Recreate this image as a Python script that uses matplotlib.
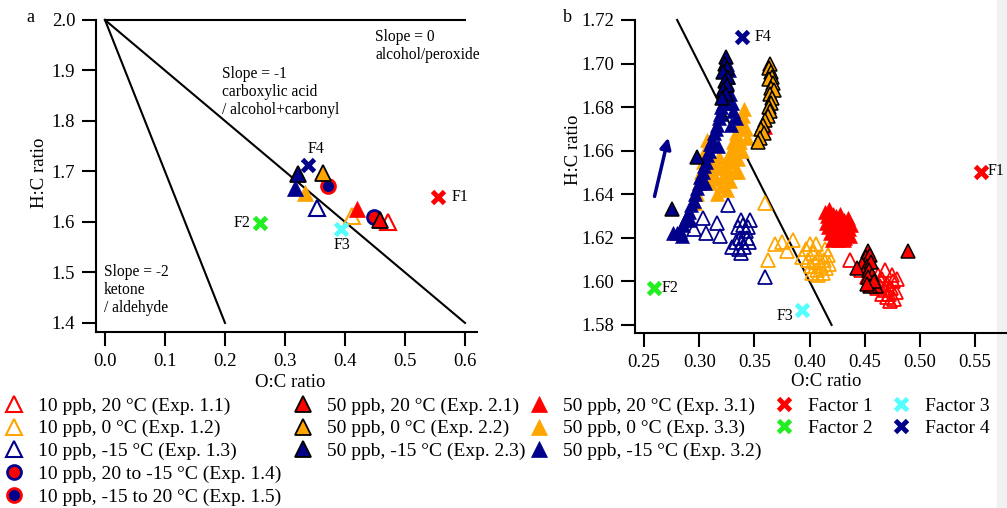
import matplotlib
matplotlib.use('Agg')
import matplotlib.pyplot as plt
from matplotlib.patches import Rectangle

plt.rcParams['font.family'] = ['Liberation Serif', 'DejaVu Serif']

RED = '#ff0000'
ORANGE = '#ffa500'
NAVY = '#00008b'
GREEN = '#22ee22'
CYAN = '#55ffff'

# ---- panel a: mean O:C, H:C per experiment ----
a_exp11 = (0.472, 1.600)
a_exp12 = (0.412, 1.611)
a_exp13 = (0.353, 1.628)
a_exp14 = (0.449, 1.610)
a_exp15 = (0.372, 1.671)
a_exp21 = (0.458, 1.604)
a_exp22 = (0.363, 1.697)
a_exp23 = (0.322, 1.695)
a_exp31 = (0.420, 1.625)
a_exp33 = (0.333, 1.657)
a_exp32 = (0.317, 1.667)

# factor positions (O:C, H:C)
fac_x = [0.555, 0.259, 0.393, 0.339]
fac_y = [1.650, 1.597, 1.587, 1.712]
fac_colors = [RED, GREEN, CYAN, NAVY]

# ---- panel b: time-resolved points ----
b_exp11 = [(0.437, 1.610), (0.447, 1.605), (0.452, 1.602), (0.456, 1.604), (0.459, 1.600),
           (0.462, 1.603), (0.464, 1.598), (0.466, 1.601), (0.468, 1.596), (0.470, 1.599),
           (0.472, 1.594), (0.474, 1.597), (0.476, 1.600), (0.478, 1.595), (0.479, 1.601),
           (0.477, 1.592), (0.473, 1.591), (0.470, 1.593), (0.466, 1.594), (0.461, 1.597),
           (0.475, 1.603), (0.468, 1.605)]
b_exp12 = [(0.360, 1.636), (0.369, 1.617), (0.375, 1.618), (0.385, 1.619), (0.380, 1.614),
           (0.362, 1.610), (0.393, 1.611), (0.397, 1.615), (0.399, 1.610), (0.401, 1.607),
           (0.403, 1.613), (0.405, 1.609), (0.407, 1.605), (0.409, 1.611), (0.410, 1.607),
           (0.412, 1.604), (0.413, 1.610), (0.415, 1.606), (0.417, 1.612), (0.418, 1.608),
           (0.402, 1.604), (0.408, 1.603), (0.414, 1.615), (0.406, 1.617), (0.400, 1.617)]
b_exp13 = [(0.326, 1.635), (0.303, 1.629), (0.316, 1.627), (0.306, 1.622), (0.319, 1.621),
           (0.360, 1.602), (0.335, 1.625), (0.338, 1.628), (0.340, 1.626), (0.342, 1.623),
           (0.337, 1.620), (0.339, 1.618), (0.341, 1.616), (0.343, 1.620), (0.345, 1.618),
           (0.336, 1.615), (0.338, 1.613), (0.344, 1.625), (0.346, 1.628), (0.333, 1.618),
           (0.330, 1.616), (0.295, 1.624)]
b_exp21 = [(0.489, 1.614), (0.453, 1.614), (0.451, 1.611), (0.455, 1.612), (0.448, 1.608),
           (0.452, 1.607), (0.456, 1.609), (0.454, 1.605), (0.457, 1.603), (0.453, 1.602),
           (0.460, 1.598), (0.455, 1.598), (0.458, 1.600), (0.452, 1.599), (0.443, 1.606)]
b_exp22 = [(0.364, 1.700), (0.363, 1.698), (0.365, 1.696), (0.366, 1.694), (0.363, 1.693),
           (0.367, 1.691), (0.365, 1.689), (0.368, 1.688), (0.364, 1.686), (0.366, 1.684),
           (0.365, 1.682), (0.363, 1.680), (0.364, 1.678), (0.362, 1.676), (0.360, 1.674),
           (0.358, 1.672), (0.356, 1.670), (0.359, 1.668), (0.355, 1.666), (0.353, 1.664)]
b_exp23 = [(0.324, 1.703), (0.323, 1.700), (0.325, 1.698), (0.322, 1.696), (0.326, 1.694),
           (0.323, 1.692), (0.325, 1.690), (0.322, 1.688), (0.324, 1.686), (0.321, 1.684),
           (0.298, 1.657), (0.275, 1.633)]
b_exp31 = [(0.360, 1.671), (0.414, 1.632), (0.416, 1.630), (0.415, 1.627), (0.418, 1.633),
           (0.417, 1.625), (0.420, 1.629), (0.419, 1.622), (0.421, 1.631), (0.422, 1.626),
           (0.423, 1.620), (0.424, 1.630), (0.425, 1.624), (0.426, 1.628), (0.427, 1.621),
           (0.428, 1.631), (0.429, 1.625), (0.430, 1.623), (0.431, 1.628), (0.432, 1.620),
           (0.433, 1.626), (0.434, 1.622), (0.435, 1.629), (0.436, 1.624), (0.437, 1.621),
           (0.438, 1.626), (0.420, 1.619), (0.426, 1.619), (0.431, 1.619)]
b_exp33 = [(0.296, 1.636), (0.298, 1.640), (0.300, 1.645), (0.302, 1.650), (0.303, 1.655),
           (0.305, 1.660), (0.307, 1.665), (0.312, 1.650), (0.315, 1.647), (0.318, 1.652),
           (0.320, 1.644), (0.322, 1.648), (0.323, 1.653), (0.325, 1.642), (0.326, 1.657),
           (0.327, 1.650), (0.328, 1.646), (0.329, 1.660), (0.330, 1.655), (0.331, 1.664),
           (0.332, 1.650), (0.333, 1.668), (0.334, 1.660), (0.335, 1.656), (0.336, 1.670),
           (0.337, 1.664), (0.338, 1.673), (0.340, 1.676), (0.341, 1.679), (0.342, 1.670),
           (0.343, 1.666), (0.339, 1.660), (0.335, 1.650), (0.318, 1.657), (0.313, 1.655),
           (0.310, 1.645), (0.316, 1.640)]
b_exp32 = [(0.280, 1.622), (0.283, 1.623), (0.285, 1.626), (0.287, 1.628), (0.289, 1.630),
           (0.291, 1.632), (0.293, 1.635), (0.295, 1.637), (0.296, 1.640), (0.298, 1.643),
           (0.300, 1.645), (0.301, 1.648), (0.303, 1.650), (0.304, 1.653), (0.306, 1.655),
           (0.307, 1.658), (0.309, 1.660), (0.310, 1.663), (0.312, 1.665), (0.313, 1.668),
           (0.315, 1.670), (0.316, 1.672), (0.318, 1.675), (0.319, 1.677), (0.320, 1.680),
           (0.322, 1.682), (0.323, 1.685), (0.324, 1.688), (0.325, 1.691), (0.326, 1.694),
           (0.327, 1.697), (0.325, 1.700), (0.328, 1.686), (0.330, 1.682), (0.331, 1.678),
           (0.333, 1.675), (0.329, 1.672), (0.317, 1.662), (0.305, 1.645), (0.292, 1.628),
           (0.276, 1.622), (0.284, 1.621)]

labels = ['10 ppb, 20 °C (Exp. 1.1)', '10 ppb, 0 °C (Exp. 1.2)', '10 ppb, -15 °C (Exp. 1.3)',
          '10 ppb, 20 to -15 °C (Exp. 1.4)', '10 ppb, -15 to 20 °C (Exp. 1.5)',
          '50 ppb, 20 °C (Exp. 2.1)', '50 ppb, 0 °C (Exp. 2.2)', '50 ppb, -15 °C (Exp. 2.3)',
          '50 ppb, 20 °C (Exp. 3.1)', '50 ppb, 0 °C (Exp. 3.3)', '50 ppb, -15 °C (Exp. 3.2)',
          'Factor 1', 'Factor 2', 'Factor 3', 'Factor 4']

# marker styles: (marker, facecolor, edgecolor, edgewidth)
styles = {
    'exp11': ('^', 'none', RED, 1.5),
    'exp12': ('^', 'none', ORANGE, 1.5),
    'exp13': ('^', 'none', NAVY, 1.5),
    'exp14': ('o', RED, NAVY, 2.0),
    'exp15': ('o', NAVY, RED, 2.0),
    'exp21': ('^', RED, 'black', 1.3),
    'exp22': ('^', ORANGE, 'black', 1.3),
    'exp23': ('^', NAVY, 'black', 1.3),
    'exp31': ('^', RED, RED, 0.5),
    'exp33': ('^', ORANGE, ORANGE, 0.5),
    'exp32': ('^', NAVY, NAVY, 0.5),
}

fig = plt.figure(figsize=(10.07, 5.08), dpi=100)
fig.patches.append(Rectangle((0.990, 0), 0.010, 1, transform=fig.transFigure,
                             color='#f1f1f1', zorder=-10))

axa = fig.add_axes([96 / 1007, 1 - 332 / 508, 381 / 1007, 312 / 508])
axb = fig.add_axes([635 / 1007, 1 - 333 / 508, 372 / 1007, 313 / 508])

for ax in (axa, axb):
    ax.set_facecolor('none')
    for s in ('top', 'right'):
        ax.spines[s].set_visible(False)
    for s in ('left', 'bottom'):
        ax.spines[s].set_linewidth(1.5)
    ax.tick_params(direction='out', length=10, width=1.5, labelsize=13.5, pad=5)

# ---- panel a ----
axa.plot([0, 0.6], [2.0, 2.0], color='black', lw=1.5, clip_on=False)
axa.plot([0, 0.6], [2.0, 1.4], color='black', lw=1.5, clip_on=False)
axa.plot([0, 0.2], [2.0, 1.4], color='black', lw=1.5, clip_on=False)

a_pts = {'exp11': a_exp11, 'exp12': a_exp12, 'exp13': a_exp13, 'exp14': a_exp14,
         'exp15': a_exp15, 'exp21': a_exp21, 'exp22': a_exp22, 'exp23': a_exp23,
         'exp31': a_exp31, 'exp33': a_exp33, 'exp32': a_exp32}
handles = {}
for key, (x, y) in a_pts.items():
    m, fc, ec, ew = styles[key]
    ms = 10 if m == 'o' else 11
    h, = axa.plot([x], [y], linestyle='none', marker=m, ms=ms, mfc=fc, mec=ec, mew=ew,
                  clip_on=False, zorder=3)
    handles[key] = h

fac_handles = []
for x, y, c in zip(fac_x, fac_y, fac_colors):
    h, = axa.plot([x], [y], linestyle='none', marker='x', ms=9, mew=3.5, color=c,
                  clip_on=False, zorder=4)
    fac_handles.append(h)

axa.text(0.352, 1.745, 'F4', fontsize=11.5, ha='center', va='center')
axa.text(0.243, 1.598, 'F2', fontsize=11.5, ha='right', va='center')
axa.text(0.395, 1.554, 'F3', fontsize=11.5, ha='center', va='center')
axa.text(0.578, 1.650, 'F1', fontsize=11.5, ha='left', va='center')

axa.text(0.450, 1.983, 'Slope = 0\nalcohol/peroxide', fontsize=11.2, va='top',
         linespacing=1.2)
axa.text(0.195, 1.908, 'Slope = -1\ncarboxylic acid\n/ alcohol+carbonyl', fontsize=11.2,
         va='top', linespacing=1.15)
axa.text(-0.002, 1.516, 'Slope = -2\nketone\n/ aldehyde', fontsize=11.2, va='top',
         linespacing=1.15)

axa.set_xlim(-0.015, 0.62)
axa.set_ylim(1.382, 2.0)
axa.set_xticks([0.0, 0.1, 0.2, 0.3, 0.4, 0.5, 0.6])
axa.set_yticks([1.4, 1.5, 1.6, 1.7, 1.8, 1.9, 2.0])
axa.xaxis.set_major_formatter(plt.FormatStrFormatter('%.1f'))
axa.yaxis.set_major_formatter(plt.FormatStrFormatter('%.1f'))
axa.set_xlabel('O:C ratio', fontsize=13.5)
axa.set_ylabel('H:C ratio', fontsize=13.5)
axa.xaxis.set_label_coords(0.509, -0.135)
axa.yaxis.set_label_coords(-0.126, 0.51)

# ---- panel b ----
axb.plot([0.28, 0.42], [1.72, 1.58], color='black', lw=1.5, clip_on=False)

b_pts = [('exp11', b_exp11), ('exp12', b_exp12), ('exp13', b_exp13),
         ('exp33', b_exp33), ('exp32', b_exp32), ('exp31', b_exp31),
         ('exp21', b_exp21), ('exp22', b_exp22), ('exp23', b_exp23)]
for key, pts in b_pts:
    m, fc, ec, ew = styles[key]
    xs = [p[0] for p in pts]
    ys = [p[1] for p in pts]
    axb.plot(xs, ys, linestyle='none', marker=m, ms=10, mfc=fc, mec=ec, mew=ew * 0.85,
             clip_on=False, zorder=3)

for x, y, c in zip(fac_x, fac_y, fac_colors):
    axb.plot([x], [y], linestyle='none', marker='x', ms=9, mew=3.5, color=c,
             clip_on=False, zorder=4)
axb.text(0.3505, 1.712, 'F4', fontsize=11.5, ha='left', va='center')
axb.text(0.5616, 1.6507, 'F1', fontsize=11.5, ha='left', va='center')
axb.text(0.2663, 1.597, 'F2', fontsize=11.5, ha='left', va='center')
axb.text(0.3855, 1.584, 'F3', fontsize=11.5, ha='right', va='center')

axb.annotate('', xy=(0.272, 1.666), xytext=(0.2595, 1.639),
             arrowprops=dict(arrowstyle='-|>', color=NAVY, lw=2.5, mutation_scale=16,
                             shrinkA=0, shrinkB=0))

axb.set_xlim(0.2418, 0.579)
axb.set_ylim(1.5763, 1.72)
axb.set_xticks([0.25, 0.30, 0.35, 0.40, 0.45, 0.50, 0.55])
axb.set_yticks([1.58, 1.60, 1.62, 1.64, 1.66, 1.68, 1.70, 1.72])
axb.xaxis.set_major_formatter(plt.FormatStrFormatter('%.2f'))
axb.yaxis.set_major_formatter(plt.FormatStrFormatter('%.2f'))
axb.set_xlabel('O:C ratio', fontsize=13.5)
axb.set_ylabel('H:C ratio', fontsize=13.5)
axb.xaxis.set_label_coords(0.513, -0.128)
axb.yaxis.set_label_coords(-0.142, 0.585)

fig.text(30 / 1007, 1 - 18 / 508, 'a', fontsize=13, ha='center', va='center')
fig.text(567 / 1007, 1 - 18 / 508, 'b', fontsize=13, ha='center', va='center')

# ---- legends ----
leg_kw = dict(frameon=False, fontsize=14, loc='upper left', borderpad=0,
              borderaxespad=0, handlelength=1.0, handletextpad=0.74,
              labelspacing=0.26, numpoints=1)
groups = [
    ([handles[k] for k in ('exp11', 'exp12', 'exp13', 'exp14', 'exp15')], labels[0:5], 4),
    ([handles[k] for k in ('exp21', 'exp22', 'exp23')], labels[5:8], 293),
    ([handles[k] for k in ('exp31', 'exp33', 'exp32')], labels[8:11], 529),
    (fac_handles[0:2], labels[11:13], 774),
    (fac_handles[2:4], labels[13:15], 891),
]
for hs, labs, xleft in groups:
    fig.legend(hs, labs, bbox_to_anchor=(xleft / 1007, 1 - 397 / 508), **leg_kw)

fig.savefig('out.png', dpi=100)
